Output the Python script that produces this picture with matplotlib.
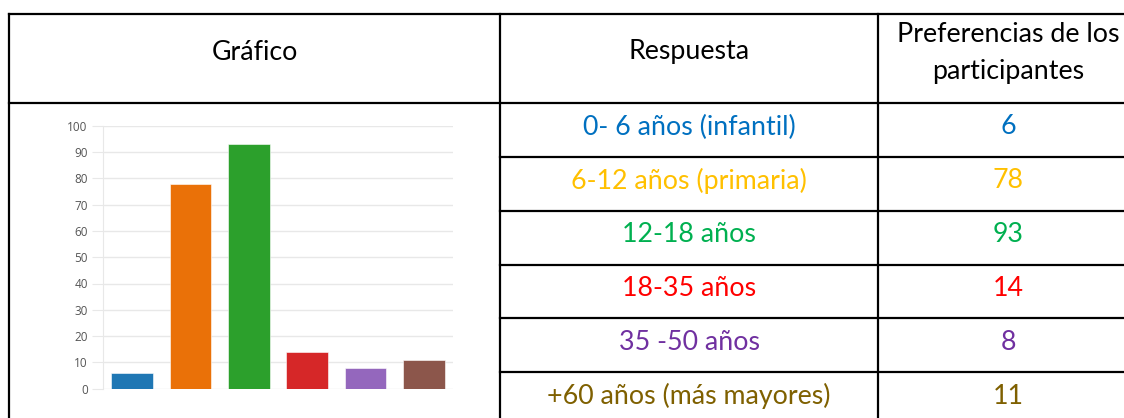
import matplotlib
matplotlib.use("Agg")
import matplotlib.pyplot as plt
from matplotlib.lines import Line2D

categories = ["0- 6 años (infantil)", "6-12 años (primaria)", "12-18 años",
              "18-35 años", "35 -50 años", "+60 años (más mayores)"]
values = [6, 78, 93, 14, 8, 11]
bar_colors = ["#1f77b4", "#ea7108", "#2ca02c", "#d62728", "#9467bd", "#8c564b"]
text_colors = ["#0070C0", "#FFC000", "#00B050", "#FF0000", "#7030A0", "#7F6000"]
yticks = list(range(0, 101, 10))

W, H = 1124, 418
fig = plt.figure(figsize=(W / 100, H / 100), dpi=100)


def fx(x):
    return x / W


def fy(y):
    return 1 - y / H


# table grid (pixel positions of the layout)
col_x = [9, 500, 878]
row_y = [14, 103, 157, 211, 265, 318, 372]
lw = 1.6
fig.add_artist(Line2D([fx(9), fx(W + 20)], [fy(14), fy(14)], color="black", lw=lw))
fig.add_artist(Line2D([fx(9), fx(W + 20)], [fy(103), fy(103)], color="black", lw=lw))
for y in row_y[2:]:
    fig.add_artist(Line2D([fx(500), fx(W + 20)], [fy(y), fy(y)], color="black", lw=lw))
for x in col_x:
    fig.add_artist(Line2D([fx(x), fx(x)], [fy(14), fy(H + 10)], color="black", lw=lw))

font = "Lato"
fs = 19.3
fig.text(fx(255), fy(52), "Gráfico", ha="center", va="center", fontsize=fs, family=font)
fig.text(fx(689), fy(52), "Respuesta", ha="center", va="center", fontsize=fs, family=font)
fig.text(fx(1008), fy(35), "Preferencias de los", ha="center", va="center", fontsize=fs, family=font)
fig.text(fx(1008), fy(71), "participantes", ha="center", va="center", fontsize=fs, family=font)

for i, (cat, val, col) in enumerate(zip(categories, values, text_colors)):
    yc = row_y[i + 1] + 24
    fig.text(fx(689), fy(yc), cat, ha="center", va="center", fontsize=fs, family=font, color=col)
    fig.text(fx(1008), fy(yc), str(val), ha="center", va="center", fontsize=fs, family=font, color=col)

# embedded bar chart
ax = fig.add_axes([fx(103), fy(388.7), fx(453) - fx(103), fy(125.7) - fy(388.7)])
x = range(len(values))
ax.bar(x, values, width=0.715, color=bar_colors, edgecolor="white", linewidth=0.4, zorder=3)
ax.set_xlim(-0.5, len(values) - 0.5)
ax.set_ylim(0, 100)
ax.set_yticks(yticks)
ax.set_xticks([])
ax.grid(axis="y", color="#e8e8e8", linewidth=1, zorder=0)
for s in ["top", "right", "bottom"]:
    ax.spines[s].set_visible(False)
ax.spines["left"].set_color("#e8e8e8")
ax.tick_params(axis="y", length=8, color="#e8e8e8", labelsize=8.5, labelcolor="#555555", pad=3)
for lab in ax.get_yticklabels():
    lab.set_family("Open Sans")

fig.savefig("out.png", dpi=100)
